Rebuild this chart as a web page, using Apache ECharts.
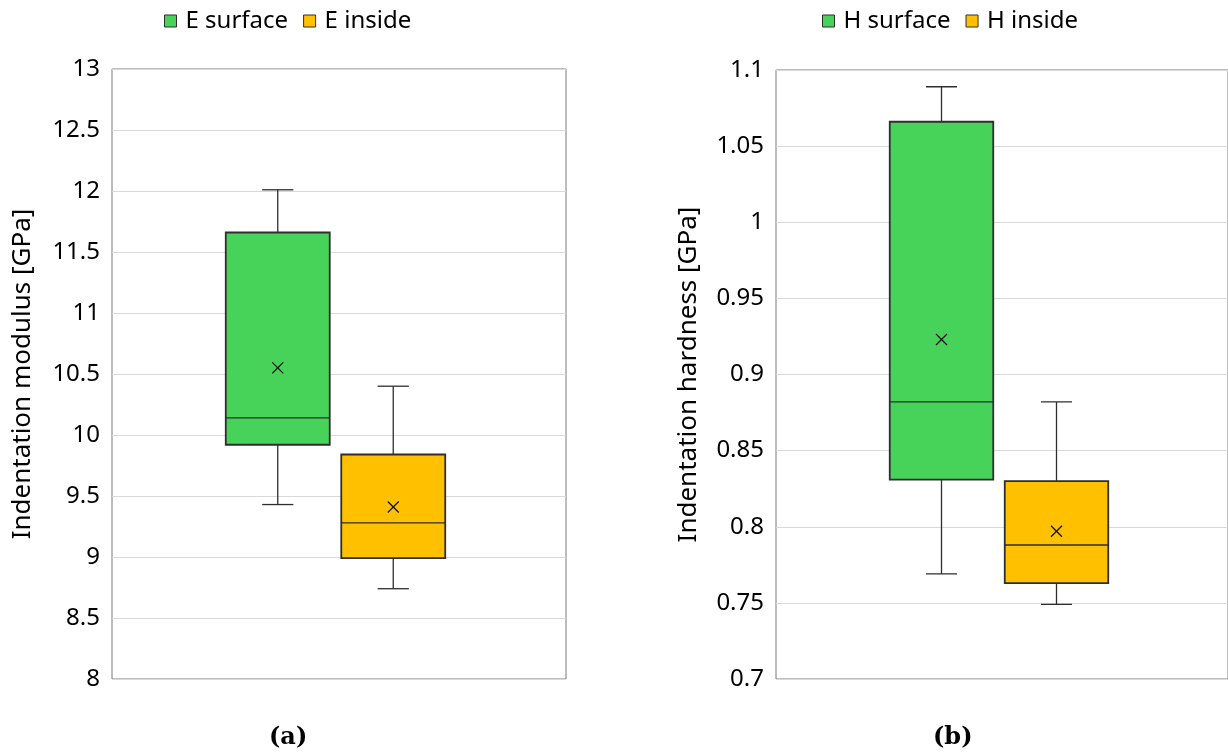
<!DOCTYPE html>
<html>
<head>
<meta charset="utf-8">
<title>Indentation modulus and hardness</title>
<script src="https://cdn.jsdelivr.net/npm/echarts@6/dist/echarts.min.js"></script>
<style>
  html, body { margin: 0; padding: 0; background: #ffffff; }
  #chart { width: 1228px; height: 756px; }
</style>
</head>
<body>
<div id="chart"></div>
<script>
// Groups shown in each panel
const modulusGroups = ['E surface', 'E inside'];
const hardnessGroups = ['H surface', 'H inside'];

// Five-number summaries: [min, Q1, median, Q3, max]
const modulusSurface = [9.43, 9.92, 10.14, 11.66, 12.01];
const modulusInside = [8.74, 8.99, 9.28, 9.84, 10.40];
const hardnessSurface = [0.769, 0.831, 0.882, 1.066, 1.089];
const hardnessInside = [0.749, 0.763, 0.788, 0.830, 0.882];

// Means (drawn as x markers)
const modulusMeans = [10.55, 9.41];
const hardnessMeans = [0.923, 0.797];

// Axis ranges and tick steps
const modulusAxis = { min: 8, max: 13, interval: 0.5 };
const hardnessAxis = { min: 0.7, max: 1.1, interval: 0.05 };

const GREEN = '#47d35a';
const GOLD = '#ffc000';
const EDGE = '#2e2e2e';
const FONT = '"Noto Sans", "Open Sans", sans-serif';

// Draws one box with whiskers, median line and mean marker
function renderBox(params, api) {
  const cat = api.value(0);
  const lo = api.coord([cat, api.value(1)]);
  const q1 = api.coord([cat, api.value(2)]);
  const med = api.coord([cat, api.value(3)]);
  const q3 = api.coord([cat, api.value(4)]);
  const hi = api.coord([cat, api.value(5)]);
  const mean = api.coord([cat, api.value(6)]);
  const band = api.size([1, 0])[0];
  const half = band * 0.45;
  const cap = band * 0.135;
  const x = lo[0];
  const m = 5.5;
  const lineStyle = { stroke: EDGE, lineWidth: 1.3 };
  return {
    type: 'group',
    children: [
      { type: 'line', shape: { x1: x, y1: hi[1], x2: x, y2: q3[1] }, style: lineStyle },
      { type: 'line', shape: { x1: x, y1: q1[1], x2: x, y2: lo[1] }, style: lineStyle },
      { type: 'line', shape: { x1: x - cap, y1: hi[1], x2: x + cap, y2: hi[1] }, style: lineStyle },
      { type: 'line', shape: { x1: x - cap, y1: lo[1], x2: x + cap, y2: lo[1] }, style: lineStyle },
      {
        type: 'rect',
        shape: { x: x - half, y: q3[1], width: half * 2, height: q1[1] - q3[1] },
        style: { fill: api.visual('color'), stroke: EDGE, lineWidth: 1.8 }
      },
      { type: 'line', shape: { x1: x - half, y1: med[1], x2: x + half, y2: med[1] }, style: lineStyle },
      { type: 'line', shape: { x1: mean[0] - m, y1: mean[1] - m, x2: mean[0] + m, y2: mean[1] + m }, style: { stroke: '#111', lineWidth: 1.3 } },
      { type: 'line', shape: { x1: mean[0] - m, y1: mean[1] + m, x2: mean[0] + m, y2: mean[1] - m }, style: { stroke: '#111', lineWidth: 1.3 } }
    ]
  };
}

function boxSeries(name, cat, stats, mean, color, axisIndex) {
  return {
    name: name,
    type: 'custom',
    xAxisIndex: axisIndex,
    yAxisIndex: axisIndex,
    renderItem: renderBox,
    itemStyle: { color: color },
    encode: { x: 0, y: [1, 2, 3, 4, 5, 6] },
    data: [[cat].concat(stats, [mean])],
    silent: true
  };
}

function legendFor(names, leftPx) {
  return {
    left: leftPx,
    top: 4,
    itemWidth: 12,
    itemHeight: 12,
    itemGap: 15,
    icon: 'rect',
    selectedMode: false,
    textStyle: { fontFamily: FONT, fontSize: 24, color: '#000', padding: [0, 0, 0, 4] },
    data: [
      { name: names[0], itemStyle: { color: GREEN, borderColor: EDGE, borderWidth: 1 } },
      { name: names[1], itemStyle: { color: GOLD, borderColor: EDGE, borderWidth: 1 } }
    ]
  };
}

function frameYAxis(gridIndex, range, title, gap) {
  return {
    type: 'value',
    gridIndex: gridIndex,
    min: range.min,
    max: range.max,
    interval: range.interval,
    name: title,
    nameLocation: 'middle',
    nameGap: gap,
    nameTextStyle: { fontFamily: FONT, fontSize: 26, color: '#000' },
    axisLine: { show: false },
    axisTick: { show: false },
    axisLabel: { fontFamily: FONT, fontSize: 24, color: '#000', margin: 12 },
    splitLine: { show: true, lineStyle: { color: '#d9d9d9', width: 1 } }
  };
}

function boxYAxis(gridIndex, range) {
  return {
    type: 'value',
    gridIndex: gridIndex,
    min: range.min,
    max: range.max,
    interval: range.interval,
    show: false,
    splitLine: { show: false }
  };
}

const frameStyle = { show: true, borderColor: '#7a7a7a', borderWidth: 1, backgroundColor: '#ffffff' };
const captionStyle = { fontFamily: '"DejaVu Serif", serif', fontWeight: 'bold', fontSize: 24, color: '#000' };

const option = {
  animation: false,
  backgroundColor: '#ffffff',
  textStyle: { fontFamily: FONT },
  legend: [
    legendFor(modulusGroups, 159),
    legendFor(hardnessGroups, 817)
  ],
  title: [
    { text: '(a)', left: 264, top: 721, textStyle: captionStyle },
    { text: '(b)', left: 928, top: 721, textStyle: captionStyle }
  ],
  grid: [
    // panel frames carrying the value axes
    Object.assign({ left: 112, top: 69, width: 454, height: 610 }, frameStyle),
    Object.assign({ left: 776, top: 70, width: 458, height: 609 }, frameStyle),
    // inner bands holding the boxes
    { left: 220, top: 69, width: 231, height: 610, show: false },
    { left: 884, top: 70, width: 230, height: 609, show: false }
  ],
  xAxis: [
    { type: 'category', gridIndex: 0, data: [''], show: false },
    { type: 'category', gridIndex: 1, data: [''], show: false },
    { type: 'category', gridIndex: 2, data: modulusGroups, show: false },
    { type: 'category', gridIndex: 3, data: hardnessGroups, show: false }
  ],
  yAxis: [
    frameYAxis(0, modulusAxis, 'Indentation modulus [GPa]', 76),
    frameYAxis(1, hardnessAxis, 'Indentation hardness [GPa]', 74),
    boxYAxis(2, modulusAxis),
    boxYAxis(3, hardnessAxis)
  ],
  series: [
    boxSeries(modulusGroups[0], modulusGroups[0], modulusSurface, modulusMeans[0], GREEN, 2),
    boxSeries(modulusGroups[1], modulusGroups[1], modulusInside, modulusMeans[1], GOLD, 2),
    boxSeries(hardnessGroups[0], hardnessGroups[0], hardnessSurface, hardnessMeans[0], GREEN, 3),
    boxSeries(hardnessGroups[1], hardnessGroups[1], hardnessInside, hardnessMeans[1], GOLD, 3)
  ]
};

const chart = echarts.init(document.getElementById('chart'), null, { renderer: 'canvas' });
chart.setOption(option);
</script>
</body>
</html>
